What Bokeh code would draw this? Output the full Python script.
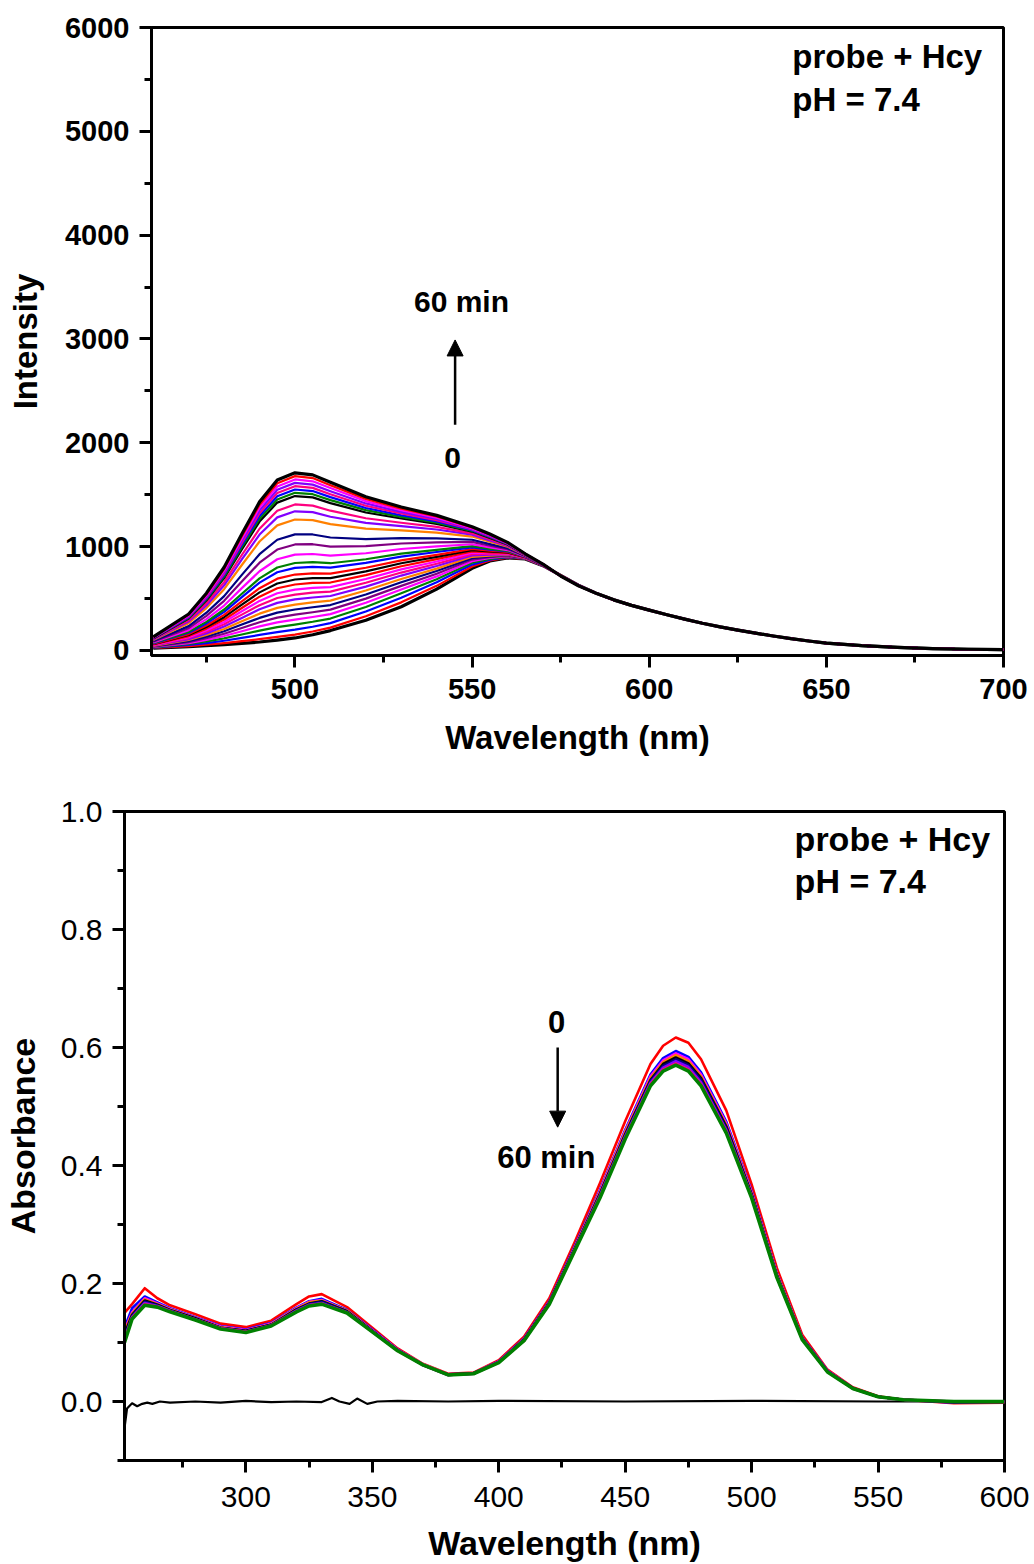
from bokeh.plotting import figure
from bokeh.models import (SingleIntervalTicker, PrintfTickFormatter, Arrow,
                          NormalHead, Label, Range1d)
from bokeh.embed import file_html
from bokeh.resources import INLINE

FONT = "Liberation Sans"

# ---------------- top panel: fluorescence (probe + Hcy, 0 -> 60 min) -------------
wl_fl = [460, 470, 475, 480, 485, 490, 495, 500, 505, 510, 520, 530, 540, 550, 555, 560, 565, 570, 575, 580]
wl_tail = [585, 590, 595, 600, 605, 610, 615, 620, 625, 630, 635, 640, 645, 650, 660, 670, 680, 690, 700]
int_tail = [550, 486, 433, 387, 342, 300, 261, 226, 195, 165, 138, 112, 90, 70, 45, 28, 17, 10, 6]

fl_00 = [20, 35, 45, 55, 67, 80, 98, 119, 150, 190, 290, 420, 590, 790, 860, 890, 880, 815, 722, 627]
fl_01 = [22, 41, 55, 70, 88, 107, 129, 151, 181, 219, 328, 462, 621, 808, 865, 893, 881, 815, 722, 627]
fl_02 = [26, 51, 70, 92, 120, 148, 175, 199, 227, 262, 374, 507, 655, 826, 873, 898, 883, 816, 722, 627]
fl_03 = [29, 61, 86, 115, 152, 189, 223, 248, 275, 306, 418, 549, 685, 844, 881, 902, 884, 816, 722, 627]
fl_04 = [32, 70, 101, 138, 184, 230, 269, 296, 321, 349, 458, 585, 712, 859, 889, 907, 886, 817, 721, 626]
fl_05 = [36, 79, 116, 160, 215, 270, 315, 343, 367, 392, 498, 621, 738, 874, 897, 911, 887, 817, 721, 626]
fl_06 = [39, 89, 132, 183, 248, 312, 363, 393, 415, 436, 538, 655, 764, 888, 905, 916, 889, 818, 721, 626]
fl_07 = [42, 99, 147, 205, 280, 353, 409, 440, 461, 479, 576, 687, 787, 901, 913, 920, 890, 818, 721, 626]
fl_08 = [46, 108, 163, 229, 312, 395, 457, 490, 509, 523, 614, 720, 812, 915, 921, 925, 892, 818, 721, 626]
fl_09 = [49, 118, 178, 251, 344, 435, 504, 537, 555, 566, 651, 749, 834, 927, 928, 929, 893, 819, 720, 626]
fl_10 = [52, 127, 193, 273, 376, 476, 550, 585, 601, 609, 687, 780, 856, 940, 936, 934, 895, 819, 720, 626]
fl_11 = [56, 137, 209, 296, 408, 517, 598, 634, 649, 653, 724, 810, 878, 952, 944, 939, 896, 820, 720, 625]
fl_12 = [59, 147, 224, 319, 440, 558, 644, 682, 695, 696, 760, 839, 900, 964, 952, 943, 898, 820, 720, 625]
fl_13 = [62, 156, 239, 341, 471, 598, 690, 730, 741, 739, 795, 866, 920, 976, 960, 948, 899, 821, 720, 625]
fl_14 = [67, 169, 259, 371, 513, 652, 752, 794, 803, 796, 842, 903, 947, 991, 970, 954, 901, 821, 719, 625]
fl_15 = [70, 178, 274, 393, 545, 693, 798, 841, 849, 839, 877, 931, 968, 1003, 978, 958, 903, 822, 719, 625]
fl_16 = [76, 194, 300, 431, 599, 762, 877, 922, 928, 912, 935, 976, 1001, 1022, 991, 966, 905, 823, 719, 624]
fl_17 = [82, 213, 331, 477, 663, 844, 971, 1020, 1022, 999, 1004, 1029, 1040, 1044, 1007, 975, 908, 823, 719, 624]
fl_18 = [89, 233, 362, 522, 727, 926, 1065, 1117, 1116, 1087, 1072, 1080, 1078, 1065, 1023, 984, 911, 824, 718, 624]
fl_19 = [99, 261, 407, 589, 822, 1048, 1204, 1260, 1254, 1215, 1172, 1155, 1134, 1096, 1046, 998, 916, 826, 718, 623]
fl_20 = [104, 277, 432, 626, 875, 1115, 1281, 1339, 1331, 1287, 1228, 1197, 1164, 1114, 1059, 1005, 918, 826, 717, 623]
fl_21 = [109, 290, 453, 657, 918, 1171, 1344, 1405, 1394, 1345, 1272, 1229, 1189, 1127, 1070, 1011, 920, 827, 717, 623]
fl_22 = [114, 306, 479, 695, 972, 1240, 1423, 1486, 1473, 1418, 1328, 1270, 1218, 1144, 1083, 1019, 923, 828, 717, 623]
fl_23 = [117, 312, 489, 710, 993, 1267, 1453, 1517, 1504, 1447, 1350, 1286, 1230, 1151, 1089, 1022, 924, 828, 717, 623]
fl_24 = [119, 318, 499, 725, 1014, 1294, 1484, 1549, 1534, 1476, 1371, 1301, 1242, 1157, 1094, 1025, 925, 829, 717, 623]
fl_25 = [121, 324, 509, 740, 1035, 1321, 1515, 1581, 1565, 1504, 1393, 1318, 1254, 1164, 1099, 1028, 926, 829, 716, 622]
fl_26 = [123, 331, 519, 755, 1056, 1348, 1546, 1613, 1596, 1533, 1415, 1333, 1265, 1170, 1104, 1031, 927, 829, 716, 622]
fl_27 = [126, 337, 530, 770, 1078, 1376, 1578, 1646, 1628, 1563, 1437, 1349, 1277, 1177, 1110, 1034, 928, 829, 716, 622]
fl_28 = [128, 344, 540, 785, 1099, 1403, 1609, 1678, 1659, 1591, 1459, 1365, 1289, 1184, 1115, 1037, 929, 830, 716, 622]
fl_29 = [130, 350, 550, 800, 1120, 1430, 1640, 1710, 1690, 1620, 1480, 1380, 1300, 1190, 1120, 1040, 930, 830, 716, 622]

fl_curves = [fl_00, fl_01, fl_02, fl_03, fl_04, fl_05, fl_06, fl_07, fl_08, fl_09,
             fl_10, fl_11, fl_12, fl_13, fl_14, fl_15, fl_16, fl_17, fl_18, fl_19,
             fl_20, fl_21, fl_22, fl_23, fl_24, fl_25, fl_26, fl_27, fl_28, fl_29]

BLACK, RED, BLUE, GREEN = "#000000", "#FF0000", "#0000FF", "#008000"
MAG, PUR, NAVY, ORA, VIO, PINK = "#FF00FF", "#800080", "#000080", "#FF8000", "#8000FF", "#FF0080"
fl_colors = [BLACK, RED, BLUE, GREEN, MAG, PUR, NAVY, ORA, VIO, PINK,
             MAG, RED, BLACK, RED, BLUE, GREEN, MAG, PUR, NAVY, ORA,
             VIO, PINK, BLACK, GREEN, BLUE, PINK, VIO, MAG, RED, BLACK]

# ---------------- bottom panel: absorbance -------------
wl_abs = [252, 255, 260, 265, 270, 280, 290, 300, 310, 320, 325, 330, 340, 350, 360,
          370, 380, 390, 400, 410, 420, 430, 440, 450, 460, 465, 470, 475, 480, 490,
          500, 510, 520, 530, 540, 550, 560, 580, 600]
abs_red = [0.150, 0.165, 0.192, 0.175, 0.163, 0.148, 0.132, 0.126, 0.137, 0.165, 0.178, 0.182, 0.160, 0.125, 0.090,
           0.064, 0.047, 0.049, 0.070, 0.110, 0.175, 0.270, 0.370, 0.475, 0.572, 0.603, 0.617, 0.608, 0.580, 0.493,
           0.368, 0.226, 0.113, 0.054, 0.024, 0.009, 0.003, -0.003, -0.002]
abs_blue = [0.125, 0.158, 0.178, 0.168, 0.158, 0.143, 0.128, 0.122, 0.133, 0.159, 0.170, 0.174, 0.155, 0.122, 0.088,
            0.063, 0.046, 0.048, 0.068, 0.107, 0.170, 0.263, 0.358, 0.460, 0.554, 0.582, 0.594, 0.584, 0.558, 0.474,
            0.357, 0.218, 0.109, 0.052, 0.023, 0.008, 0.003, -0.002, -0.001]
abs_magenta = [0.121, 0.151, 0.175, 0.166, 0.157, 0.142, 0.127, 0.121, 0.132, 0.158, 0.169, 0.172, 0.154, 0.121, 0.088,
               0.063, 0.046, 0.048, 0.068, 0.106, 0.169, 0.261, 0.356, 0.458, 0.551, 0.578, 0.590, 0.580, 0.554, 0.471,
               0.355, 0.217, 0.108, 0.052, 0.023, 0.008, 0.003, -0.001, -0.001]
abs_orange = [0.118, 0.149, 0.173, 0.165, 0.156, 0.141, 0.126, 0.120, 0.131, 0.157, 0.168, 0.171, 0.154, 0.120, 0.087,
              0.063, 0.046, 0.048, 0.067, 0.105, 0.168, 0.260, 0.354, 0.456, 0.548, 0.575, 0.587, 0.577, 0.551, 0.468,
              0.353, 0.216, 0.108, 0.051, 0.023, 0.008, 0.003, -0.001, -0.001]
abs_black = [0.114, 0.147, 0.171, 0.164, 0.155, 0.141, 0.125, 0.120, 0.130, 0.156, 0.166, 0.170, 0.153, 0.120, 0.087,
             0.062, 0.046, 0.048, 0.067, 0.105, 0.168, 0.259, 0.352, 0.453, 0.545, 0.572, 0.583, 0.573, 0.548, 0.466,
             0.351, 0.214, 0.107, 0.051, 0.023, 0.008, 0.003, -0.001, -0.001]
abs_navy = [0.110, 0.145, 0.169, 0.163, 0.154, 0.140, 0.125, 0.119, 0.130, 0.155, 0.165, 0.169, 0.152, 0.119, 0.087,
            0.062, 0.045, 0.047, 0.067, 0.104, 0.167, 0.258, 0.350, 0.451, 0.543, 0.569, 0.580, 0.570, 0.545, 0.463,
            0.350, 0.213, 0.107, 0.051, 0.022, 0.008, 0.003, -0.001, 0.000]
abs_violet = [0.107, 0.143, 0.167, 0.162, 0.154, 0.139, 0.124, 0.118, 0.129, 0.154, 0.164, 0.167, 0.151, 0.119, 0.087,
              0.062, 0.045, 0.047, 0.067, 0.104, 0.166, 0.257, 0.349, 0.449, 0.540, 0.566, 0.577, 0.567, 0.541, 0.460,
              0.348, 0.212, 0.106, 0.051, 0.022, 0.008, 0.003, 0.000, 0.000]
abs_pink = [0.104, 0.142, 0.165, 0.161, 0.153, 0.139, 0.124, 0.118, 0.129, 0.153, 0.163, 0.166, 0.151, 0.118, 0.086,
            0.062, 0.045, 0.047, 0.066, 0.103, 0.166, 0.256, 0.347, 0.447, 0.538, 0.563, 0.573, 0.563, 0.538, 0.458,
            0.347, 0.211, 0.106, 0.050, 0.022, 0.008, 0.003, 0.000, 0.000]
abs_green = [0.100, 0.140, 0.163, 0.160, 0.152, 0.138, 0.123, 0.117, 0.128, 0.152, 0.162, 0.165, 0.150, 0.118, 0.086,
             0.062, 0.045, 0.047, 0.066, 0.103, 0.165, 0.255, 0.345, 0.445, 0.535, 0.560, 0.570, 0.560, 0.535, 0.455,
             0.345, 0.210, 0.105, 0.050, 0.022, 0.008, 0.003, 0.000, 0.000]

base_wl = [252, 253, 255, 257, 259, 261, 263, 266, 270, 280, 290, 300, 310, 320, 330, 334, 337, 341, 344, 348,
           352, 360, 380, 400, 450, 500, 550, 600]
base_abs = [-0.045, -0.012, -0.003, -0.008, -0.004, -0.002, -0.004, 0.0, -0.002, 0.0, -0.002, 0.001, -0.001, 0.0,
            -0.001, 0.006, 0.0, -0.004, 0.005, -0.004, 0.0, 0.001, 0.0, 0.001, 0.0, 0.001, 0.0, 0.0]


def style(p, tick_size, tick_style, label_size):
    p.xgrid.visible = False
    p.ygrid.visible = False
    p.outline_line_color = "black"
    p.outline_line_width = 3
    p.background_fill_color = "white"
    p.border_fill_color = "white"
    for ax in p.axis:
        ax.axis_line_width = 3
        ax.axis_line_color = "black"
        ax.major_tick_line_width = 3
        ax.minor_tick_line_width = 3
        ax.major_tick_out = 12
        ax.major_tick_in = 0
        ax.minor_tick_out = 7
        ax.minor_tick_in = 0
        ax.major_label_text_font = FONT
        ax.major_label_text_font_size = tick_size
        ax.major_label_text_font_style = tick_style
        ax.major_label_text_color = "black"
        ax.major_label_standoff = 10
        ax.axis_label_text_font = FONT
        ax.axis_label_text_font_size = label_size
        ax.axis_label_text_font_style = "bold"
        ax.axis_label_text_color = "black"


def label(p, x, y, text, size, align="left"):
    p.add_layout(Label(x=x, y=y, text=text, text_font=FONT, text_font_style="bold",
                       text_font_size=size, text_color="black", text_align=align,
                       text_baseline="alphabetic"))


# ---------------- figure 1 ----------------
p1 = figure(frame_width=852, frame_height=628,
            x_range=Range1d(459.5, 700), y_range=Range1d(-50, 6000),
            output_backend="svg", toolbar_location=None,
            min_border_left=151, min_border_right=31, min_border_top=27, min_border_bottom=120,
            x_axis_label="Wavelength (nm)", y_axis_label="Intensity")
style(p1, "29px", "bold", "33px")
p1.xaxis.ticker = SingleIntervalTicker(interval=50, num_minor_ticks=2)
p1.yaxis.ticker = SingleIntervalTicker(interval=1000, num_minor_ticks=2)
p1.xaxis.major_label_standoff = 11
p1.xaxis.axis_label_standoff = 17
p1.yaxis.axis_label_standoff = 18

for i, (curve, col) in enumerate(zip(fl_curves, fl_colors)):
    lw = 3.2 if i in (0, len(fl_curves) - 1) else 2.2
    p1.line(wl_fl + wl_tail, curve + int_tail, line_color=col, line_width=lw, line_join="round")

label(p1, 640.4, 5720, "probe + Hcy", "33px")
label(p1, 640.4, 5306, "pH = 7.4", "33px")
label(p1, 547.0, 3356, "60 min", "30px", "center")
label(p1, 544.5, 1849, "0", "30px", "center")
p1.add_layout(Arrow(end=NormalHead(size=16, fill_color="black", line_color="black", line_width=1),
                    x_start=545.2, y_start=2173, x_end=545.2, y_end=2990,
                    line_width=2.5, line_color="black"))

# ---------------- figure 2 ----------------
p2 = figure(frame_width=880, frame_height=649,
            x_range=Range1d(252, 600), y_range=Range1d(-0.1, 1.0),
            output_backend="svg", toolbar_location=None,
            min_border_left=123, min_border_right=31, min_border_top=36, min_border_bottom=104,
            x_axis_label="Wavelength (nm)", y_axis_label="Absorbance")
style(p2, "30px", "normal", "34px")
p2.xaxis.ticker = SingleIntervalTicker(interval=50, num_minor_ticks=2)
p2.yaxis.ticker = SingleIntervalTicker(interval=0.2, num_minor_ticks=2)
p2.yaxis.formatter = PrintfTickFormatter(format="%.1f")
p2.xaxis.major_label_standoff = 14
p2.xaxis.axis_label_standoff = 14
p2.yaxis.axis_label_standoff = 16

p2.line(base_wl, base_abs, line_color=BLACK, line_width=2.2, line_join="round")
abs_series = [(abs_red, RED), (abs_blue, BLUE), (abs_magenta, MAG), (abs_orange, ORA),
              (abs_black, BLACK), (abs_navy, NAVY), (abs_violet, VIO), (abs_pink, PINK)]
for vals, col in abs_series:
    p2.line(wl_abs, vals, line_color=col, line_width=2.6, line_join="round")
p2.line(wl_abs, abs_green, line_color=GREEN, line_width=3.6, line_join="round")

label(p2, 517.0, 0.954, "probe + Hcy", "34px")
label(p2, 517.0, 0.883, "pH = 7.4", "34px")
label(p2, 422.9, 0.643, "0", "31px", "center")
label(p2, 418.8, 0.413, "60 min", "31px", "center")
p2.add_layout(Arrow(end=NormalHead(size=16, fill_color="black", line_color="black", line_width=1),
                    x_start=423.3, y_start=0.600, x_end=423.3, y_end=0.465,
                    line_width=2.5, line_color="black"))

open("out.html", "w").write(file_html([p1, p2], INLINE))
